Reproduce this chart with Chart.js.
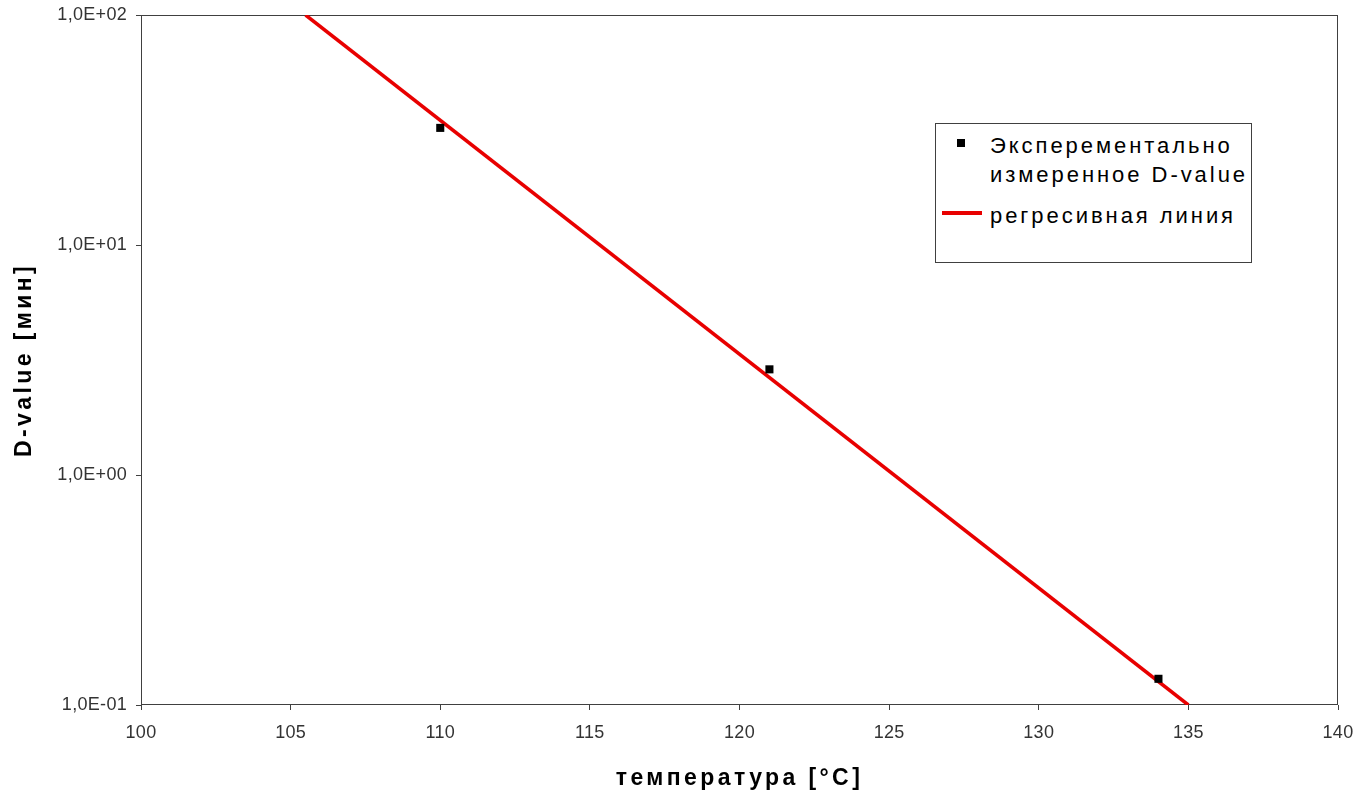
<!DOCTYPE html>
<html>
<head>
<meta charset="utf-8">
<script src="https://cdn.jsdelivr.net/npm/chart.js@4/dist/chart.umd.min.js"></script>
<style>
  html, body { margin: 0; padding: 0; background: #fff; }
  #wrap { position: relative; width: 1360px; height: 800px; }
  #chart { display: block; }
  #legend {
    position: absolute; left: 935px; top: 123px; width: 317px; height: 140px;
    box-sizing: border-box; border: 1px solid #404040; background: #fff;
    padding-top: 7px;
    font-family: "Liberation Sans", Arial, sans-serif; font-size: 22px; line-height: 29px;
    letter-spacing: 2.95px; color: #000;
  }
  .item { display: flex; margin-bottom: 11.5px; }
  .mark { position: relative; width: 54px; flex: none; }
  .mark .sq { position: absolute; left: 21px; top: 8px; width: 8px; height: 8px; }
  .mark .ln { position: absolute; left: 6px; top: 10.5px; width: 40px; height: 4px; }
  .txt { white-space: pre; }
</style>
</head>
<body>
<div id="wrap">
  <canvas id="chart" width="1360" height="800"></canvas>
  <div id="legend"></div>
</div>
<script>
// Measured D-values at each temperature
const measuredTemp = [110, 121, 134];
const measuredD = [32.3, 2.88, 0.13];

// Regression line end points
const regressionTemp = [105.5, 135];
const regressionD = [100, 0.1];

// Axis tick values
const yTickValues = [0.1, 1, 10, 100];

const seriesLabels = ['Эксперементально\nизмеренное D-value', 'регресивная линия'];
const xTitle = 'температура [°C]';
const yTitle = 'D-value [мин]';

const FONT = '"Liberation Sans", Arial, sans-serif';
const AXIS_COLOR = '#404040';

function toPoints(xs, ys) { return xs.map((x, i) => ({ x: x, y: ys[i] })); }

// 1,0E+02 style labels
function sciLabel(v) {
  const exp = Math.round(Math.log10(v));
  const mant = v / Math.pow(10, exp);
  const sign = exp < 0 ? '-' : '+';
  const e = String(Math.abs(exp)).padStart(2, '0');
  return mant.toFixed(1).replace('.', ',') + 'E' + sign + e;
}

const framePlugin = {
  id: 'frame',
  beforeDatasetsDraw(chart) {
    const { ctx, chartArea: a } = chart;
    ctx.save();
    ctx.strokeStyle = AXIS_COLOR;
    ctx.lineWidth = 1;
    ctx.strokeRect(Math.round(a.left) + 0.5, Math.round(a.top) + 0.5,
                   Math.round(a.right - a.left) - 1, Math.round(a.bottom - a.top) - 1);
    ctx.restore();
  }
};

// Letter spacing for axis titles and tick labels
const textSpacingPlugin = {
  id: 'textSpacing',
  beforeDraw(chart) {
    Object.values(chart.scales).forEach(s => {
      if (s._spaced) return;
      const wrap = (name, spacing) => {
        const orig = s[name];
        s[name] = function () {
          const args = arguments;
          this.ctx.save();
          this.ctx.letterSpacing = spacing;
          orig.apply(this, args);
          this.ctx.restore();
        };
      };
      wrap('drawTitle', '3.4px');
      wrap('drawLabels', '0.3px');
      s._spaced = true;
    });
  }
};

const htmlLegendPlugin = {
  id: 'htmlLegend',
  afterUpdate(chart) {
    const box = document.getElementById('legend');
    box.innerHTML = '';
    chart.data.datasets.forEach(ds => {
      const item = document.createElement('div');
      item.className = 'item';
      const mark = document.createElement('div');
      mark.className = 'mark';
      const m = document.createElement('div');
      if (ds.showLine) {
        m.className = 'ln';
        m.style.background = ds.borderColor;
      } else {
        m.className = 'sq';
        m.style.background = ds.backgroundColor;
      }
      mark.appendChild(m);
      const txt = document.createElement('div');
      txt.className = 'txt';
      txt.textContent = ds.label;
      item.appendChild(mark);
      item.appendChild(txt);
      box.appendChild(item);
    });
  }
};

new Chart(document.getElementById('chart'), {
  type: 'scatter',
  data: {
    datasets: [
      {
        label: seriesLabels[0],
        data: toPoints(measuredTemp, measuredD),
        pointStyle: 'rect',
        pointRadius: 5.7,
        pointHoverRadius: 5.7,
        backgroundColor: '#000',
        borderColor: '#000',
        borderWidth: 0,
        showLine: false
      },
      {
        label: seriesLabels[1],
        data: toPoints(regressionTemp, regressionD),
        showLine: true,
        borderColor: '#e80000',
        backgroundColor: '#e80000',
        borderWidth: 3.5,
        pointRadius: 0,
        pointHoverRadius: 0
      }
    ]
  },
  options: {
    responsive: false,
    animation: false,
    events: [],
    layout: { padding: { top: 15, right: 22, left: 0, bottom: 0 } },
    plugins: { legend: { display: false }, tooltip: { enabled: false } },
    scales: {
      x: {
        type: 'linear',
        min: 100, max: 140,
        afterFit(s) { s.height = 95; s.paddingLeft = 0; s.paddingRight = 0; },
        border: { display: false },
        grid: { drawOnChartArea: false, drawTicks: true, tickLength: 5, color: AXIS_COLOR },
        ticks: {
          stepSize: 5, padding: 12, color: '#333', maxRotation: 0,
          font: { family: FONT, size: 18 }
        },
        title: {
          display: true, text: xTitle, color: '#000',
          font: { family: FONT, size: 23, weight: 'bold' },
          padding: { top: 0, bottom: 8 }
        }
      },
      y: {
        type: 'logarithmic',
        min: 0.1, max: 100,
        afterFit(s) { s.width = 141; s.paddingTop = 0; s.paddingBottom = 0; },
        afterBuildTicks(s) { s.ticks = yTickValues.map(v => ({ value: v })); },
        border: { display: false },
        grid: { drawOnChartArea: false, drawTicks: true, tickLength: 5, color: AXIS_COLOR },
        ticks: {
          padding: 9, color: '#333',
          font: { family: FONT, size: 18 },
          callback: v => sciLabel(v)
        },
        title: {
          display: true, text: yTitle, color: '#000',
          font: { family: FONT, size: 23, weight: 'bold' },
          padding: { top: 11, bottom: 0 }
        }
      }
    }
  },
  plugins: [framePlugin, textSpacingPlugin, htmlLegendPlugin]
});
</script>
</body>
</html>
